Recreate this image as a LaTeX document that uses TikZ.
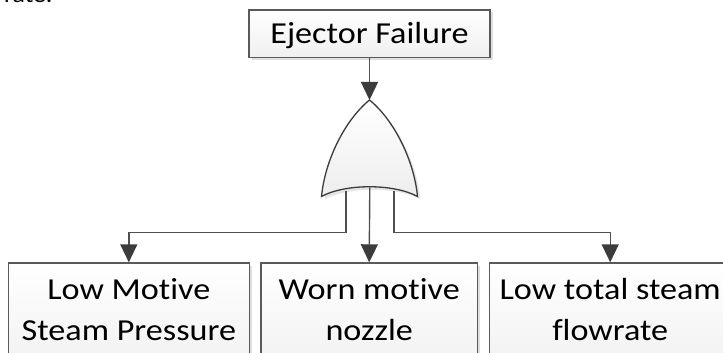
\documentclass[tikz,border=0pt]{standalone}
\usepackage{fontspec}
\setmainfont{Carlito}[FakeStretch=1.12, Ligatures=NoCommon]
\usetikzlibrary{arrows.meta,shadows}
\definecolor{linec}{HTML}{505050}
\definecolor{boxc}{HTML}{5A5A5A}
\definecolor{tipc}{HTML}{3C3C3C}
\tikzset{
  fbox/.style={draw=boxc, line width=1.4pt, top color=white, bottom color=gray!12,
    inner xsep=0pt, inner ysep=0pt, anchor=base, align=center,
    drop shadow={shadow xshift=2.5pt, shadow yshift=-2.5pt, opacity=0.25}},
  conn/.style={draw=linec, line width=1.4pt},
  arr/.style={conn, -{Triangle[width=17pt,length=18pt,color=tipc]}},
  txt/.style={font=\fontsize{30.5}{41}\selectfont}
}
\newcommand{\twoline}[2]{\begin{tabular}[t]{@{}c@{}}#1\\#2\end{tabular}}
\begin{document}
\begin{tikzpicture}[x=1pt,y=-1pt]
\clip (0,0) rectangle (723,353);
\fill[white] (0,0) rectangle (723,353);
\node[font=\fontsize{23}{28}\selectfont, anchor=base west, inner sep=0pt] (frag) at (4,3) {rate.};
% top event
\node[fbox, txt, minimum width=241pt, text height=33.3pt, text depth=14pt] (top) at (369.5,43.3) {Ejector Failure};
% OR gate
\coordinate (gtip) at (369.5,100);
\path[draw=tipc, line width=1.3pt, top color=white, bottom color=gray!14,
  drop shadow={shadow xshift=3pt, shadow yshift=-3pt, opacity=0.2}]
  (gtip) .. controls (345,120) and (325,160) .. (321.5,196.5)
  .. controls (345,183.5) and (394,183.5) .. (417.5,196.5)
  .. controls (414,160) and (394,120) .. (gtip) -- cycle;
\coordinate (g1) at (346,190.5);
\coordinate (g2) at (369.8,187.5);
\coordinate (g3) at (394,190.5);
% basic events
\node[fbox, txt, minimum width=241pt, text height=36.3pt, text depth=80pt] (b1) at (128.8,299.3) {\twoline{Low Motive}{Steam Pressure}};
\node[fbox, txt, minimum width=216.3pt, text height=36.3pt, text depth=80pt] (b2) at (369.2,299.3) {\twoline{Worn motive}{nozzle}};
\node[fbox, txt, minimum width=241.4pt, text height=36.3pt, text depth=80pt] (b3) at (610.2,299.3) {\twoline{Low total steam}{flowrate}};
% connectors
\draw[arr] (top.south) -- (gtip);
\draw[arr] (g1) |- (128.8,232.5) -- (b1.north);
\draw[arr] (g2) -- (b2.north);
\draw[arr] (g3) |- (610.2,232.5) -- (b3.north);
\end{tikzpicture}
\end{document}
